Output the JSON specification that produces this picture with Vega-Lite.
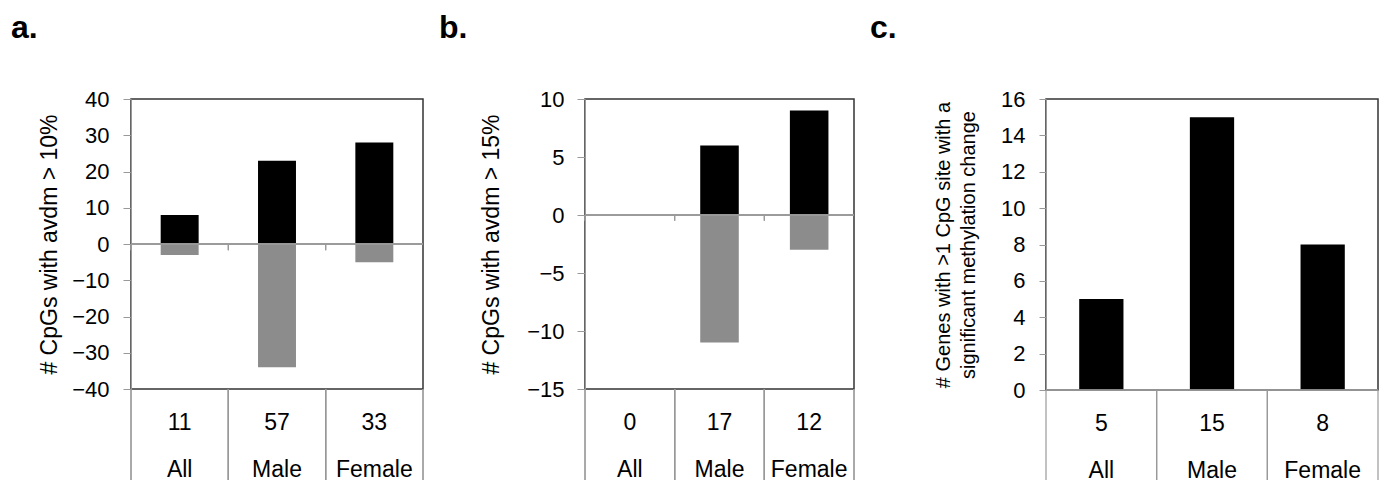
{
  "$schema": "https://vega.github.io/schema/vega-lite/v6.json",
  "padding": {"left": 10, "top": 11, "right": 0, "bottom": 0},
  "spacing": 13,
  "config": {
    "font": "Liberation Sans",
    "view": {"stroke": "#333333", "strokeWidth": 1.5},
    "axis": {"grid": false, "domainColor": "#999999", "tickColor": "#999999", "labelColor": "#000000", "titleColor": "#000000", "labelFont": "Liberation Sans", "titleFont": "Liberation Sans", "titleFontWeight": "normal", "labelOverlap": false},
    "title": {"fontSize": 32, "fontWeight": "bold", "anchor": "start", "frame": "group", "color": "#000000", "font": "Liberation Sans"}
  },
  "hconcat": [
    {
      "width": 292,
      "height": 290,
      "title": {"text": "a.", "dx": -120, "offset": 43},
      "data": {"values": [
        {"group": "All", "n": 11, "dir": "up", "value": 8},
        {"group": "All", "n": 11, "dir": "down", "value": -3},
        {"group": "Male", "n": 57, "dir": "up", "value": 23},
        {"group": "Male", "n": 57, "dir": "down", "value": -34},
        {"group": "Female", "n": 33, "dir": "up", "value": 28},
        {"group": "Female", "n": 33, "dir": "down", "value": -5}
      ]},
      "transform": [{"calculate": "datum.n + '|' + datum.group", "as": "label"}],
      "encoding": {
        "x": {"field": "label", "type": "nominal", "sort": null,
          "scale": {"paddingInner": 0, "paddingOuter": 0},
          "axis": {"title": null, "orient": "bottom", "domain": false, "ticks": false, "labelExpr": "split(datum.value, '|')", "labelFontSize": 23, "labelLineHeight": 47, "labelPadding": 22, "labelAngle": 0}},
        "y": {"field": "value", "type": "quantitative", "stack": null,
          "scale": {"domain": [-40, 40], "nice": false},
          "axis": {"values": [-40, -30, -20, -10, 0, 10, 20, 30, 40], "labelOverlap": false, "tickSize": 8, "labelPadding": 14, "labelFontSize": 22, "title": "# CpGs with avdm > 10%", "titleFontSize": 23, "titlePadding": 10}}
      },
      "layer": [
        {
          "mark": {"type": "bar", "width": {"band": 0.39}},
          "encoding": {
            "color": {"field": "dir", "type": "nominal", "scale": {"domain": ["up", "down"], "range": ["#000000", "#8c8c8c"]}, "legend": null}
          }
        },
        {
          "mark": {"type": "rule", "color": "#999999", "strokeWidth": 1.2},
          "encoding": {"x": null, "y": {"datum": 0, "type": "quantitative", "axis": {"values": [-40, -30, -20, -10, 0, 10, 20, 30, 40], "labelOverlap": false, "tickSize": 8, "labelPadding": 14, "labelFontSize": 22, "title": "# CpGs with avdm > 10%", "titleFontSize": 23, "titlePadding": 10}}}
        },
        {
          "mark": {"type": "rule", "color": "#999999", "strokeWidth": 1.2},
          "encoding": {
            "x": {"field": "label", "type": "nominal", "sort": null, "bandPosition": 0},
            "y": {"datum": 0, "type": "quantitative", "axis": {"values": [-40, -30, -20, -10, 0, 10, 20, 30, 40], "labelOverlap": false, "tickSize": 8, "labelPadding": 14, "labelFontSize": 22, "title": "# CpGs with avdm > 10%", "titleFontSize": 23, "titlePadding": 10}},
            "y2": {"datum": -1.7}
          }
        },
        {
          "mark": {"type": "rule", "color": "#999999", "strokeWidth": 1.2},
          "encoding": {
            "x": {"field": "label", "type": "nominal", "sort": null, "bandPosition": 0},
            "y": {"datum": -40, "type": "quantitative", "axis": {"values": [-40, -30, -20, -10, 0, 10, 20, 30, 40], "labelOverlap": false, "tickSize": 8, "labelPadding": 14, "labelFontSize": 22, "title": "# CpGs with avdm > 10%", "titleFontSize": 23, "titlePadding": 10}},
            "y2": {"datum": -66.5}
          }
        },
        {
          "mark": {"type": "rule", "color": "#999999", "strokeWidth": 1.2},
          "encoding": {
            "x": {"field": "label", "type": "nominal", "sort": null, "bandPosition": 1},
            "y": {"datum": -40, "type": "quantitative", "axis": {"values": [-40, -30, -20, -10, 0, 10, 20, 30, 40], "labelOverlap": false, "tickSize": 8, "labelPadding": 14, "labelFontSize": 22, "title": "# CpGs with avdm > 10%", "titleFontSize": 23, "titlePadding": 10}},
            "y2": {"datum": -66.5}
          }
        }
      ]
    },
    {
      "width": 269,
      "height": 290,
      "title": {"text": "b.", "dx": -146, "offset": 43},
      "data": {"values": [
        {"group": "All", "n": 0, "dir": "up", "value": 0},
        {"group": "All", "n": 0, "dir": "down", "value": 0},
        {"group": "Male", "n": 17, "dir": "up", "value": 6},
        {"group": "Male", "n": 17, "dir": "down", "value": -11},
        {"group": "Female", "n": 12, "dir": "up", "value": 9},
        {"group": "Female", "n": 12, "dir": "down", "value": -3}
      ]},
      "transform": [{"calculate": "datum.n + '|' + datum.group", "as": "label"}],
      "encoding": {
        "x": {"field": "label", "type": "nominal", "sort": null,
          "scale": {"paddingInner": 0, "paddingOuter": 0},
          "axis": {"title": null, "orient": "bottom", "domain": false, "ticks": false, "labelExpr": "split(datum.value, '|')", "labelFontSize": 23, "labelLineHeight": 47, "labelPadding": 22, "labelAngle": 0}},
        "y": {"field": "value", "type": "quantitative", "stack": null,
          "scale": {"domain": [-15, 10], "nice": false},
          "axis": {"values": [-15, -10, -5, 0, 5, 10], "labelOverlap": false, "tickSize": 8, "labelPadding": 13, "labelFontSize": 22, "title": "# CpGs with avdm > 15%", "titleFontSize": 23, "titlePadding": 23}}
      },
      "layer": [
        {
          "mark": {"type": "bar", "width": {"band": 0.43}},
          "encoding": {
            "color": {"field": "dir", "type": "nominal", "scale": {"domain": ["up", "down"], "range": ["#000000", "#8c8c8c"]}, "legend": null}
          }
        },
        {
          "mark": {"type": "rule", "color": "#999999", "strokeWidth": 1.2},
          "encoding": {"x": null, "y": {"datum": 0, "type": "quantitative", "axis": {"values": [-15, -10, -5, 0, 5, 10], "labelOverlap": false, "tickSize": 8, "labelPadding": 13, "labelFontSize": 22, "title": "# CpGs with avdm > 15%", "titleFontSize": 23, "titlePadding": 23}}}
        },
        {
          "mark": {"type": "rule", "color": "#999999", "strokeWidth": 1.2},
          "encoding": {
            "x": {"field": "label", "type": "nominal", "sort": null, "bandPosition": 0},
            "y": {"datum": 0, "type": "quantitative", "axis": {"values": [-15, -10, -5, 0, 5, 10], "labelOverlap": false, "tickSize": 8, "labelPadding": 13, "labelFontSize": 22, "title": "# CpGs with avdm > 15%", "titleFontSize": 23, "titlePadding": 23}},
            "y2": {"datum": -0.5}
          }
        },
        {
          "mark": {"type": "rule", "color": "#999999", "strokeWidth": 1.2},
          "encoding": {
            "x": {"field": "label", "type": "nominal", "sort": null, "bandPosition": 0},
            "y": {"datum": -15, "type": "quantitative", "axis": {"values": [-15, -10, -5, 0, 5, 10], "labelOverlap": false, "tickSize": 8, "labelPadding": 13, "labelFontSize": 22, "title": "# CpGs with avdm > 15%", "titleFontSize": 23, "titlePadding": 23}},
            "y2": {"datum": -23.2}
          }
        },
        {
          "mark": {"type": "rule", "color": "#999999", "strokeWidth": 1.2},
          "encoding": {
            "x": {"field": "label", "type": "nominal", "sort": null, "bandPosition": 1},
            "y": {"datum": -15, "type": "quantitative", "axis": {"values": [-15, -10, -5, 0, 5, 10], "labelOverlap": false, "tickSize": 8, "labelPadding": 13, "labelFontSize": 22, "title": "# CpGs with avdm > 15%", "titleFontSize": 23, "titlePadding": 23}},
            "y2": {"datum": -23.2}
          }
        }
      ]
    },
    {
      "width": 332,
      "height": 291,
      "title": {"text": "c.", "dx": -176, "offset": 43},
      "data": {"values": [
        {"group": "All", "n": 5, "value": 5},
        {"group": "Male", "n": 15, "value": 15},
        {"group": "Female", "n": 8, "value": 8}
      ]},
      "transform": [{"calculate": "datum.n + '|' + datum.group", "as": "label"}],
      "encoding": {
        "x": {"field": "label", "type": "nominal", "sort": null,
          "scale": {"paddingInner": 0, "paddingOuter": 0},
          "axis": {"title": null, "orient": "bottom", "domain": false, "ticks": false, "labelExpr": "split(datum.value, '|')", "labelFontSize": 23, "labelLineHeight": 47, "labelPadding": 22, "labelAngle": 0}},
        "y": {"field": "value", "type": "quantitative",
          "scale": {"domain": [0, 16], "nice": false},
          "axis": {"values": [0, 2, 4, 6, 8, 10, 12, 14, 16], "labelOverlap": false, "tickSize": 7, "labelPadding": 14, "labelFontSize": 22, "title": ["# Genes with >1 CpG site with a", "significant methylation change"], "titleFontSize": 20, "titleLineHeight": 25, "titlePadding": 22}}
      },
      "layer": [
        {
          "mark": {"type": "bar", "color": "#000000", "width": {"band": 0.4}}
        },
        {
          "mark": {"type": "rule", "color": "#999999", "strokeWidth": 1.2},
          "encoding": {"x": null, "y": {"datum": 0, "type": "quantitative", "axis": {"values": [0, 2, 4, 6, 8, 10, 12, 14, 16], "labelOverlap": false, "tickSize": 7, "labelPadding": 14, "labelFontSize": 22, "title": ["# Genes with >1 CpG site with a", "significant methylation change"], "titleFontSize": 20, "titleLineHeight": 25, "titlePadding": 22}}}
        },
        {
          "mark": {"type": "rule", "color": "#999999", "strokeWidth": 1.2},
          "encoding": {
            "x": {"field": "label", "type": "nominal", "sort": null, "bandPosition": 0},
            "y": {"datum": 0, "type": "quantitative", "axis": {"values": [0, 2, 4, 6, 8, 10, 12, 14, 16], "labelOverlap": false, "tickSize": 7, "labelPadding": 14, "labelFontSize": 22, "title": ["# Genes with >1 CpG site with a", "significant methylation change"], "titleFontSize": 20, "titleLineHeight": 25, "titlePadding": 22}},
            "y2": {"datum": -5.2}
          }
        },
        {
          "mark": {"type": "rule", "color": "#999999", "strokeWidth": 1.2},
          "encoding": {
            "x": {"field": "label", "type": "nominal", "sort": null, "bandPosition": 1},
            "y": {"datum": 0, "type": "quantitative", "axis": {"values": [0, 2, 4, 6, 8, 10, 12, 14, 16], "labelOverlap": false, "tickSize": 7, "labelPadding": 14, "labelFontSize": 22, "title": ["# Genes with >1 CpG site with a", "significant methylation change"], "titleFontSize": 20, "titleLineHeight": 25, "titlePadding": 22}},
            "y2": {"datum": -5.2}
          }
        }
      ]
    }
  ]
}
